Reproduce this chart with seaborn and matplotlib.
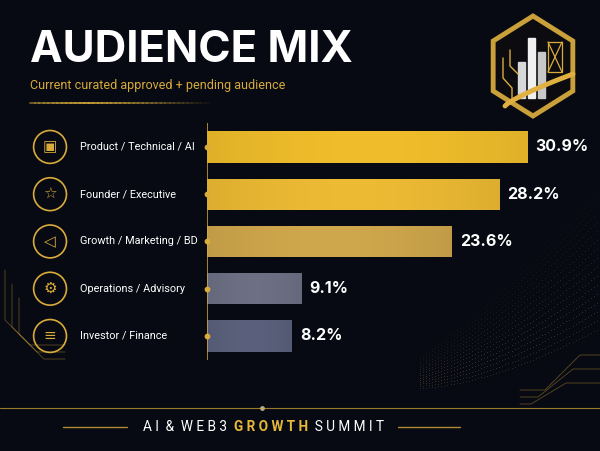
import numpy as np
import pandas as pd
import matplotlib
matplotlib.use("Agg")
import matplotlib.pyplot as plt
from matplotlib.patches import Polygon, Rectangle
import seaborn as sns

# data
categories = ["Product / Technical / AI", "Founder / Executive", "Growth / Marketing / BD",
              "Operations / Advisory", "Investor / Finance"]
shares = [30.9, 28.2, 23.6, 9.1, 8.2]
bar_colors = ["#e9b82a", "#e6b532", "#c9a24a", "#6a6d80", "#585e78"]
icons = ["\u25A3", "\u2606", "\u25C1", "\u2699", "\u2261"]

bg = "#070a12"
gold = "#d9ab3a"

sns.set_theme(style="white")
plt.rcParams["font.family"] = ["Roboto", "DejaVu Sans"]

df = pd.DataFrame({"cat": categories, "share": shares})

fig = plt.figure(figsize=(6, 4.51), dpi=100, facecolor=bg)

# background / decoration axes in pixel units
deco = fig.add_axes([0, 0, 1, 1])
deco.set_xlim(0, 600)
deco.set_ylim(451, 0)
deco.axis("off")
deco.set_facecolor(bg)

# dotted wave at lower right
for k in range(16):
    t = np.linspace(0, 1, 60)
    xs = 420 + 180 * t
    ys = 388 - 60 * t ** 1.6 - k * 7 * (0.3 + t)
    deco.scatter(xs, ys, s=0.6, color=gold, alpha=0.28 * (1 - abs(k - 3) / 16), lw=0)

# circuit lines
for off in [0, 7, 14]:
    deco.plot([5 + off, 5 + off, 30 + off, 65], [270 + off * 2, 320 + off, 345 + off, 345 + off],
              color=gold, lw=0.7, alpha=0.35)
    deco.plot([600, 580 - off, 545 - off, 520], [355 + off * 2, 355 + off * 2, 390 + off, 390 + off],
              color=gold, lw=0.7, alpha=0.35)

# title + subtitle
fig.text(30 / 600, 1 - 50 / 451, "AUDIENCE MIX", color="white", fontsize=31.5,
         fontweight="bold", family=["Inter", "DejaVu Sans"], va="center")
fig.text(30 / 600, 1 - 86 / 451, "Current curated approved + pending audience",
         color=gold, fontsize=9, va="center")
for i in range(40):
    x0 = 30 + i * 4.5
    deco.plot([x0, x0 + 4.5], [103, 103], color=gold, lw=1.2,
              alpha=max(0.05, 1 - abs(i - 12) / 28))

# logo (hexagon badge)
ang = np.deg2rad(np.arange(90, 450, 60))
hx, hy = 533 + 46 * np.cos(ang), 66 - 50 * np.sin(ang)
deco.add_patch(Polygon(np.c_[hx, hy], closed=True, fc="#0c0c10", ec="#caa03a", lw=3.5))
for x0, top, c in [(518, 62, "#d8d8d8"), (528, 38, "#f0f0f0"), (538, 52, "#c8c8c8")]:
    deco.add_patch(Rectangle((x0, top), 7, 98 - top, color=c))
deco.plot([503, 503, 512, 512], [58, 78, 88, 98], color=gold, lw=1)
deco.plot([510, 510, 518], [50, 66, 74], color=gold, lw=1)
deco.plot([548, 562, 562, 548, 548], [42, 42, 72, 72, 42], color=gold, lw=0.9)
deco.plot([548, 562], [42, 72], color=gold, lw=0.9)
deco.plot([562, 548], [42, 72], color=gold, lw=0.9)
t = np.linspace(0, 1, 40)
deco.plot(505 + 68 * t, 106 - 32 * t ** 0.8, color="#e0b040", lw=3.5)

# bottom band
deco.plot([0, 600], [408, 408], color=gold, lw=0.8, alpha=0.7)
deco.scatter([262], [408], s=12, color="#fff2c0", alpha=0.7, lw=0)
deco.plot([63, 127], [427, 427], color=gold, lw=1, alpha=0.8)
deco.plot([398, 460], [427, 427], color=gold, lw=1, alpha=0.8)
t1 = deco.text(143, 427, "A I  &  W E B 3  ", color="white", fontsize=9.8, va="center")
t2 = deco.annotate("G R O W T H", xy=(1, 0), xycoords=t1, va="bottom", ha="left",
                   color="#e8b83a", fontsize=9.8, fontweight="bold")
deco.annotate("  S U M M I T", xy=(1, 0), xycoords=t2, va="bottom", ha="left",
              color="white", fontsize=9.8)

# chart axes
ax = fig.add_axes([207 / 600, 1 - 359.6 / 451, 360 / 600, 236.3 / 451])
ax.patch.set_alpha(0)
sns.barplot(data=df, x="share", y="cat", hue="cat", palette=bar_colors,
            width=0.66, legend=False, ax=ax, saturation=1, linewidth=0)
ax.set_xlim(0, 34.76)
ax.set_ylim(4.5, -0.5)
ax.set_xlabel("")
ax.set_ylabel("")
ax.set_xticks([])
ax.set_yticks([])
sns.despine(ax=ax, left=True, bottom=True)

# soft gradient fill on bars
for patch, c in zip([p for cont in ax.containers for p in cont], bar_colors):
    x, y = patch.get_x(), patch.get_y()
    w, h = patch.get_width(), patch.get_height()
    base = np.array(matplotlib.colors.to_rgb(c))
    g = np.linspace(0, 1, 100)
    shade = 0.96 + 0.07 * np.sin(g * np.pi)
    img = np.clip(base[None, None, :] * shade[None, :, None], 0, 1)
    im = ax.imshow(img, extent=[x, x + w, y + h, y], aspect="auto", zorder=3)
    im.set_clip_path(patch)

for cont, v in zip(ax.containers, shares):
    ax.bar_label(cont, labels=[f"{v}%"], padding=6, color="white", fontsize=11.5,
                 fontweight="bold", family=["Inter", "DejaVu Sans"])

# axis line with dots
ax.axvline(0, color=gold, lw=1.2, alpha=0.9, zorder=4)
ax.scatter([0] * len(categories), range(len(categories)), s=10, color=gold, zorder=5, clip_on=False)

# icons and labels
tr = ax.get_yaxis_transform()
ax.scatter([-0.436] * len(categories), range(len(categories)), s=560, transform=tr,
           facecolors="none", edgecolors=gold, lw=1.2, clip_on=False)
for i, (lab, ic) in enumerate(zip(categories, icons)):
    ax.text(-0.436, i, ic, transform=tr, ha="center", va="center", color=gold,
            fontsize=11, family="DejaVu Sans", clip_on=False)
    ax.text(-0.353, i, lab, transform=tr, ha="left", va="center", color="white",
            fontsize=7.8, clip_on=False)

fig.savefig("out.png", dpi=100, facecolor=bg)
